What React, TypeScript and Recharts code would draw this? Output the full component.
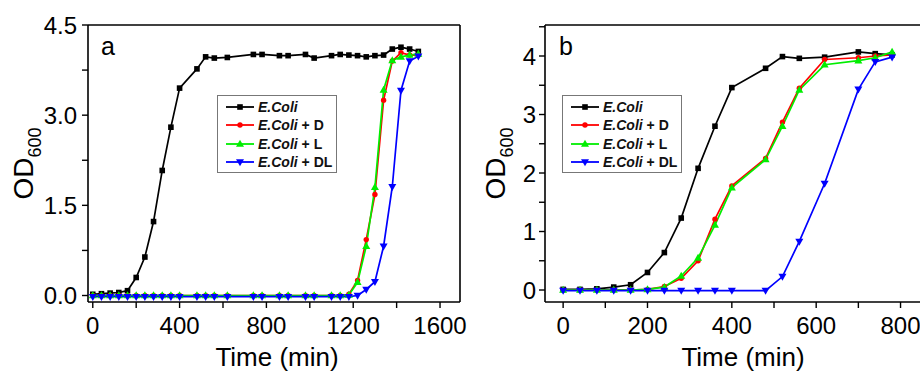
import React from 'react';
import { LineChart, Line, XAxis, YAxis, Legend } from 'recharts';

// ---------- data ----------
const timeA = [0, 40, 80, 120, 160, 200, 240, 280, 320, 360, 400, 480, 520, 560, 620, 740, 780, 860, 900, 980, 1020, 1100, 1140, 1180, 1220, 1260, 1300, 1340, 1380, 1420, 1460, 1500];
const ecoliA = [0.02, 0.03, 0.04, 0.05, 0.08, 0.30, 0.64, 1.23, 2.08, 2.80, 3.45, 3.77, 3.97, 3.95, 3.96, 4.01, 4.01, 3.99, 3.99, 4.01, 3.95, 3.99, 4.01, 4.00, 3.99, 3.97, 3.99, 4.00, 4.10, 4.13, 4.10, 4.06];
const ecoliDA = [0, 0, 0, 0, 0, 0, 0, 0, 0, 0, 0, 0, 0, 0, 0, 0, 0, 0, 0, 0, 0, 0, 0, 0.02, 0.25, 0.93, 1.68, 3.25, 3.90, 4.04, 4.00, 4.00];
const ecoliLA = [0, 0, 0, 0, 0, 0, 0, 0, 0, 0, 0, 0, 0, 0, 0, 0, 0, 0, 0, 0, 0, 0, 0, 0.01, 0.22, 0.82, 1.80, 3.42, 3.91, 3.97, 4.00, 4.02];
const ecoliDLA = [-0.02, -0.02, -0.02, -0.02, -0.02, -0.02, -0.02, -0.02, -0.02, -0.02, -0.02, -0.02, -0.02, -0.02, -0.02, -0.02, -0.02, -0.02, -0.02, -0.02, -0.02, -0.02, -0.02, -0.02, 0.0, 0.10, 0.23, 0.82, 1.81, 3.41, 3.90, 3.98];

const timeB = [0, 40, 80, 120, 160, 200, 240, 280, 320, 360, 400, 480, 520, 560, 620, 700, 740, 780];
const ecoliB = [0.01, 0.01, 0.02, 0.05, 0.09, 0.30, 0.64, 1.23, 2.08, 2.80, 3.46, 3.79, 3.99, 3.96, 3.98, 4.07, 4.04, 4.02];
const ecoliDB = [0, 0, 0, 0, 0, 0.01, 0.06, 0.20, 0.50, 1.21, 1.78, 2.25, 2.87, 3.45, 3.94, 3.97, 4.00, 4.02];
const ecoliLB = [0, 0, 0, 0, 0, 0.01, 0.05, 0.24, 0.55, 1.11, 1.75, 2.23, 2.80, 3.42, 3.85, 3.92, 3.97, 4.07];
const ecoliDLB = [-0.01, -0.01, -0.01, -0.01, -0.01, -0.01, -0.01, -0.01, -0.01, -0.01, -0.01, -0.01, 0.23, 0.83, 1.82, 3.43, 3.90, 3.98];

const xTicksA = [0, 200, 400, 600, 800, 1000, 1200, 1400, 1600];
const xLabelsA = [0, 400, 800, 1200, 1600];
const yTicksA = [0, 0.75, 1.5, 2.25, 3, 3.75, 4.5];
const yLabelsA = [0, 1.5, 3, 4.5];

const xTicksB = [0, 100, 200, 300, 400, 500, 600, 700, 800];
const xLabelsB = [0, 200, 400, 600, 800];
const yTicksB = [0, 0.5, 1, 1.5, 2, 2.5, 3, 3.5, 4, 4.5];
const yLabelsB = [0, 1, 2, 3, 4];

const seriesNames = ['E.Coli', 'E.Coli + D', 'E.Coli + L', 'E.Coli + DL'];

// ---------- styles ----------
const FONT = '"Liberation Sans", Arial, Helvetica, sans-serif';
const SERIES = [
  { key: 'ecoli', color: '#000000', shape: 'square' },
  { key: 'd', color: '#ff0000', shape: 'circle' },
  { key: 'l', color: '#00ee00', shape: 'up' },
  { key: 'dl', color: '#0000ff', shape: 'down' },
];

const rowsA = timeA.map((t, i) => ({ t, ecoli: ecoliA[i], d: ecoliDA[i], l: ecoliLA[i], dl: ecoliDLA[i] }));
const rowsB = timeB.map((t, i) => ({ t, ecoli: ecoliB[i], d: ecoliDB[i], l: ecoliLB[i], dl: ecoliDLB[i] }));

function Marker({ shape, cx, cy, color }: any) {
  if (cx == null || cy == null) return <g />;
  switch (shape) {
    case 'square':
      return <rect x={cx - 2.8} y={cy - 2.8} width={5.6} height={5.6} fill={color} />;
    case 'circle':
      return <circle cx={cx} cy={cy} r={2.7} fill={color} />;
    case 'up':
      return <path d={`M${cx},${cy - 4.2}L${cx + 4},${cy + 2.8}L${cx - 4},${cy + 2.8}Z`} fill={color} />;
    default:
      return <path d={`M${cx},${cy + 4.2}L${cx + 4},${cy - 2.8}L${cx - 4},${cy - 2.8}Z`} fill={color} />;
  }
}

function LegendBox() {
  return (
    <div
      style={{
        boxSizing: 'border-box',
        width: 120,
        height: 78,
        border: '1px solid #777',
        background: '#fff',
        paddingTop: 2,
        fontFamily: FONT,
        fontWeight: 'bold',
        fontSize: 14,
        color: '#111',
      }}
    >
      {SERIES.map((s, i) => {
        const name = seriesNames[i];
        const base = 'E.Coli';
        const rest = name.slice(base.length);
        return (
          <div key={s.key} style={{ height: 18.3, display: 'flex', alignItems: 'center', paddingLeft: 8 }}>
            <svg width={28} height={12} style={{ display: 'block' }}>
              <line x1={0} y1={6} x2={28} y2={6} stroke={s.color} strokeWidth={1.8} />
              <Marker shape={s.shape} cx={14} cy={6} color={s.color} />
            </svg>
            <span style={{ marginLeft: 4, whiteSpace: 'pre' }}>
              <span style={{ fontStyle: 'italic' }}>{base}</span>
              {rest}
            </span>
          </div>
        );
      })}
    </div>
  );
}

function Panel(props: any) {
  const {
    rows, width, yAxisWidth, marginRight, xDomain, xTicks, xLabels, yDomain, yTicks, yLabels,
    yFmt, yTickMargin, letter, letterX, legendLeft, titleX, odX,
  } = props;

  const xTick = (p: any) =>
    xLabels.includes(p.payload.value) ? (
      <text x={p.x} y={p.y} dy="0.71em" textAnchor="middle" fontSize={24} fill="#000" fontFamily={FONT}>
        {p.payload.value}
      </text>
    ) : (
      <g />
    );
  const yTick = (p: any) =>
    yLabels.includes(p.payload.value) ? (
      <text x={p.x} y={p.y} dy="0.355em" textAnchor="end" fontSize={24} fill="#000" fontFamily={FONT}>
        {yFmt(p.payload.value)}
      </text>
    ) : (
      <g />
    );

  const cy = 163.5;

  return (
    <LineChart
      width={width}
      height={374}
      data={rows}
      margin={{ top: 24, right: marginRight - 1, bottom: 0, left: 0 }}
      style={{ fontFamily: FONT }}
    >
      <XAxis
        xAxisId="b"
        type="number"
        dataKey="t"
        domain={xDomain}
        allowDataOverflow
        ticks={xTicks}
        interval={0}
        height={72}
        tickSize={6}
        tickMargin={9}
        tick={xTick}
        axisLine={{ stroke: '#000', strokeWidth: 1.6 }}
        tickLine={{ stroke: '#000', strokeWidth: 1.4 }}
        label={{
          content: () => (
            <text x={titleX} y={366} textAnchor="middle" fontSize={26} fill="#000" fontFamily={FONT}>
              Time (min)
            </text>
          ),
        }}
      />
      <XAxis
        xAxisId="t"
        orientation="top"
        type="number"
        dataKey="t"
        domain={xDomain}
        allowDataOverflow
        height={1}
        ticks={xTicks}
        tick={false}
        tickLine={false}
        axisLine={{ stroke: '#000', strokeWidth: 1.6 }}
        label={{
          content: () => (
            <text x={letterX} y={55} fontSize={25} fill="#000" fontFamily={FONT}>
              {letter}
            </text>
          ),
        }}
      />
      <YAxis
        yAxisId="l"
        type="number"
        domain={yDomain}
        allowDataOverflow
        ticks={yTicks}
        interval={0}
        width={yAxisWidth}
        tickSize={6}
        tickMargin={yTickMargin}
        tick={yTick}
        axisLine={{ stroke: '#000', strokeWidth: 1.6 }}
        tickLine={{ stroke: '#000', strokeWidth: 1.4 }}
        label={{
          content: () => (
            <text
              x={odX}
              y={cy}
              textAnchor="middle"
              transform={`rotate(-90, ${odX}, ${cy})`}
              fontSize={28}
              fill="#000"
              fontFamily={FONT}
            >
              OD
              <tspan fontSize={18} dy={8}>
                600
              </tspan>
            </text>
          ),
        }}
      />
      <YAxis
        yAxisId="r"
        orientation="right"
        type="number"
        domain={yDomain}
        allowDataOverflow
        width={1}
        ticks={yTicks}
        tick={false}
        tickLine={false}
        axisLine={{ stroke: '#000', strokeWidth: 1.6 }}
      />
      {SERIES.map((s, i) => (
        <Line
          key={s.key}
          xAxisId="b"
          yAxisId="l"
          type="linear"
          dataKey={s.key}
          name={seriesNames[i]}
          stroke={s.color}
          strokeWidth={1.7}
          isAnimationActive={false}
          activeDot={false}
          dot={(p: any) => <Marker key={`${s.key}-${p.index}`} shape={s.shape} cx={p.cx} cy={p.cy} color={s.color} />}
        />
      ))}
      <Legend
        layout="vertical"
        align="center"
        verticalAlign="middle"
        wrapperStyle={{ left: legendLeft, top: 95, width: 120, height: 78 }}
        content={() => <LegendBox />}
      />
    </LineChart>
  );
}

export default function App() {
  return (
    <div
      style={{
        position: 'fixed',
        left: 0,
        top: 0,
        width: 920,
        height: 374,
        overflow: 'hidden',
        background: '#fff',
        fontFamily: FONT,
      }}
    >
      <div style={{ position: 'absolute', left: 0, top: 0 }}>
        <Panel
          rows={rowsA}
          width={470}
          yAxisWidth={88}
          marginRight={10}
          xDomain={[-22, 1692]}
          xTicks={xTicksA}
          xLabels={xLabelsA}
          yDomain={[-0.108, 4.5]}
          yTicks={yTicksA}
          yLabels={yLabelsA}
          yFmt={(v: number) => v.toFixed(1)}
          yTickMargin={5}
          letter="a"
          letterX={101}
          legendLeft={217}
          titleX={277}
          odX={33}
        />
      </div>
      <div style={{ position: 'absolute', left: 460, top: 0 }}>
        <Panel
          rows={rowsB}
          width={470}
          yAxisWidth={85}
          marginRight={5}
          xDomain={[-43, 858]}
          xTicks={xTicksB}
          xLabels={xLabelsB}
          yDomain={[-0.205, 4.53]}
          yTicks={yTicksB}
          yLabels={yLabelsB}
          yFmt={(v: number) => String(v)}
          yTickMargin={3}
          letter="b"
          letterX={99}
          legendLeft={102}
          titleX={283}
          odX={45}
        />
      </div>
    </div>
  );
}
